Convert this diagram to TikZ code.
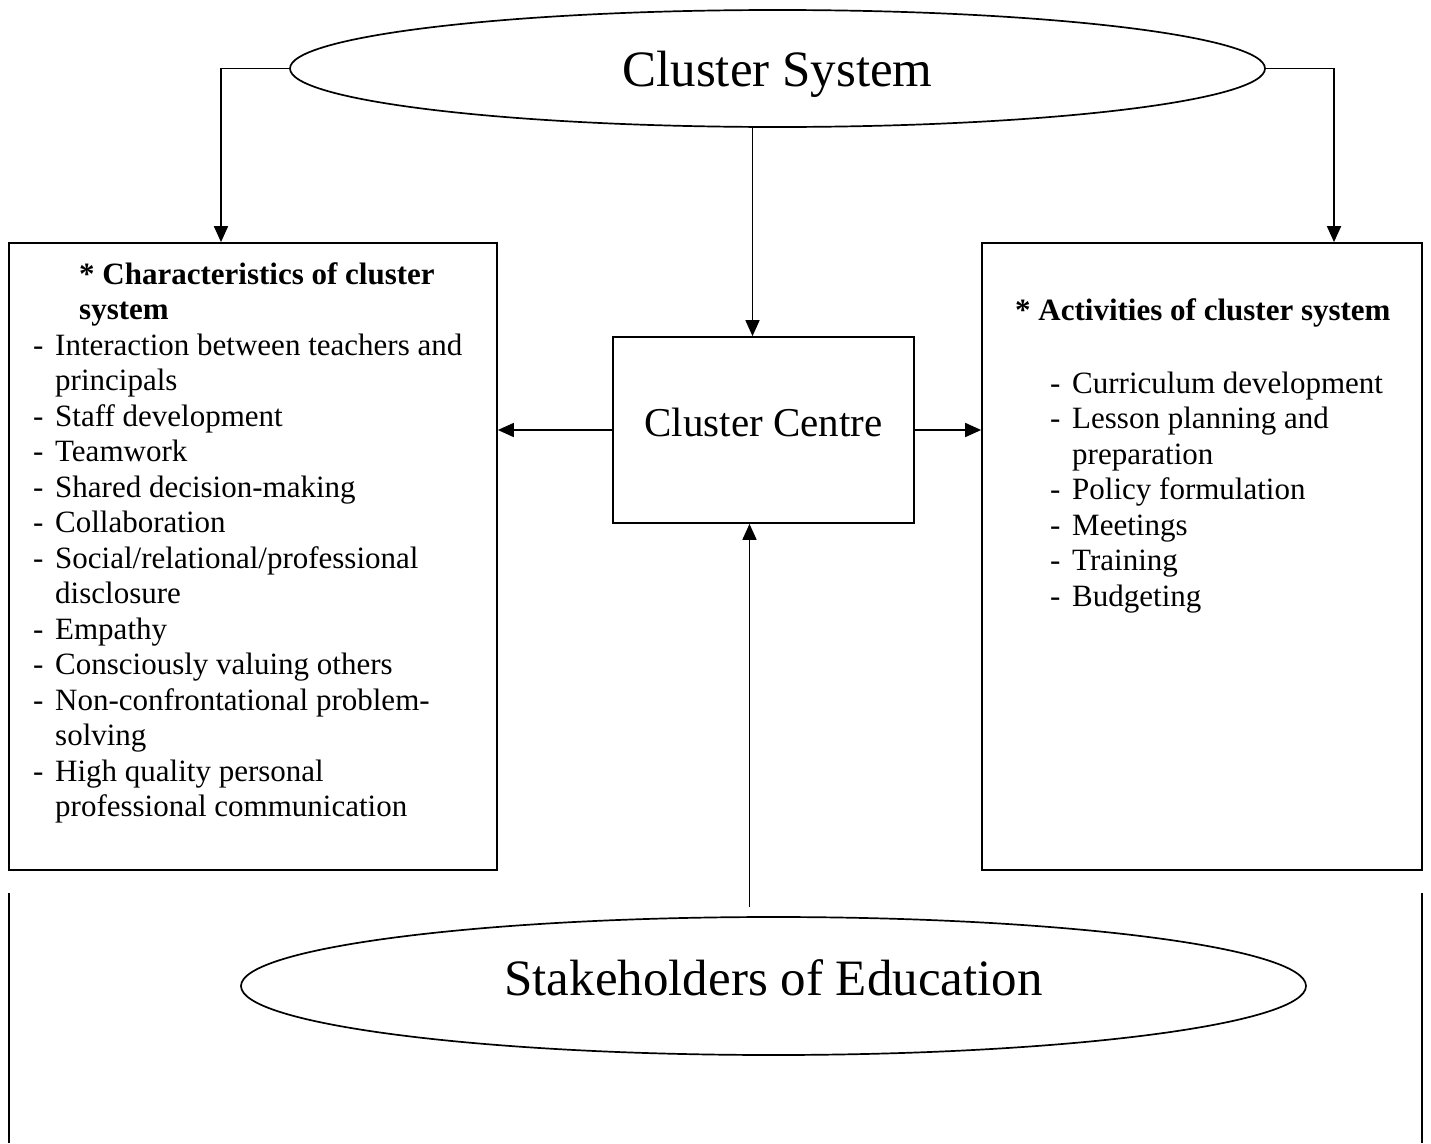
\documentclass[tikz,border=0pt]{standalone}
\usepackage{fontspec}
\setmainfont{Liberation Serif}
\usetikzlibrary{positioning,shapes.geometric,arrows.meta}

\newcommand{\dashitem}{\makebox[22pt][l]{-}}
\newcommand{\hangpad}{\hspace*{22pt}}

\tikzset{
  box/.style={draw, line width=1.7pt, rectangle, inner sep=0pt},
  oval/.style={draw, line width=1.7pt, ellipse, inner sep=0pt, font=\fontsize{51}{60}\selectfont},
  listtext/.style={align=left, inner sep=0pt, font=\fontsize{31}{35.5}\selectfont},
  link/.style={line width=1.7pt, -{Triangle[length=16pt,width=14pt]}}
}

\begin{document}
\begin{tikzpicture}[x=1pt,y=-1pt]
\useasboundingbox (0,0) rectangle (1431,1143);

% ovals
\node[oval, minimum width=975pt, minimum height=117pt, text depth=0pt] (sys) at (777.5,68.5) {Cluster System};
\node[oval, minimum width=1065pt, minimum height=138pt, text depth=16pt] (stake) at (773.5,986) {Stakeholders of Education};

% boxes
\node[box, minimum width=488pt, minimum height=627pt] (charbox) at (253,556.5) {};
\node[box, minimum width=440pt, minimum height=627pt] (actbox) at (1202,556.5) {};
\node[box, minimum width=301pt, minimum height=186pt, font=\fontsize{41}{48}\selectfont, text depth=16pt] (centre) at (763.5,430) {Cluster Centre};

% box texts
\node[listtext, anchor=north west] (charlist) at (33,262) {%
\hspace*{46pt}\textbf{* Characteristics of cluster}\\
\hspace*{46pt}\textbf{system}\\
\dashitem Interaction between teachers and\\
\hangpad principals\\
\dashitem Staff development\\
\dashitem Teamwork\\
\dashitem Shared decision-making\\
\dashitem Collaboration\\
\dashitem Social/relational/professional\\
\hangpad disclosure\\
\dashitem Empathy\\
\dashitem Consciously valuing others\\
\dashitem Non-confrontational problem-\\
\hangpad solving\\
\dashitem High quality personal\\
\hangpad professional communication};

\node[listtext, anchor=north west] (actlist) at (1015,298) {%
\textbf{* Activities of cluster system}\\[37.5pt]
\hspace*{35pt}\dashitem Curriculum development\\
\hspace*{35pt}\dashitem Lesson planning and\\
\hspace*{57pt}preparation\\
\hspace*{35pt}\dashitem Policy formulation\\
\hspace*{35pt}\dashitem Meetings\\
\hspace*{35pt}\dashitem Training\\
\hspace*{35pt}\dashitem Budgeting};

% arrows
\draw[link] (sys.west) -| ([xshift=-32pt]charbox.north);
\draw[link] (sys.east) -| ([xshift=132pt]actbox.north);
\coordinate (ctin) at ([xshift=-11pt]centre.north);
\draw[link] (sys.south -| ctin) -- (ctin);
\draw[link] (centre.west) -- (centre.west -| charbox.east);
\draw[link] (centre.east) -- (centre.east -| actbox.west);
\coordinate (stk) at ([xshift=-24pt,yshift=9pt]stake.north);
\draw[link] (stk) -- (stk |- centre.south);

% lower frame, cut by the page edge
\draw[line width=1.7pt] (9,893) -- (9,1143) (1422,893) -- (1422,1143);
\end{tikzpicture}
\end{document}
